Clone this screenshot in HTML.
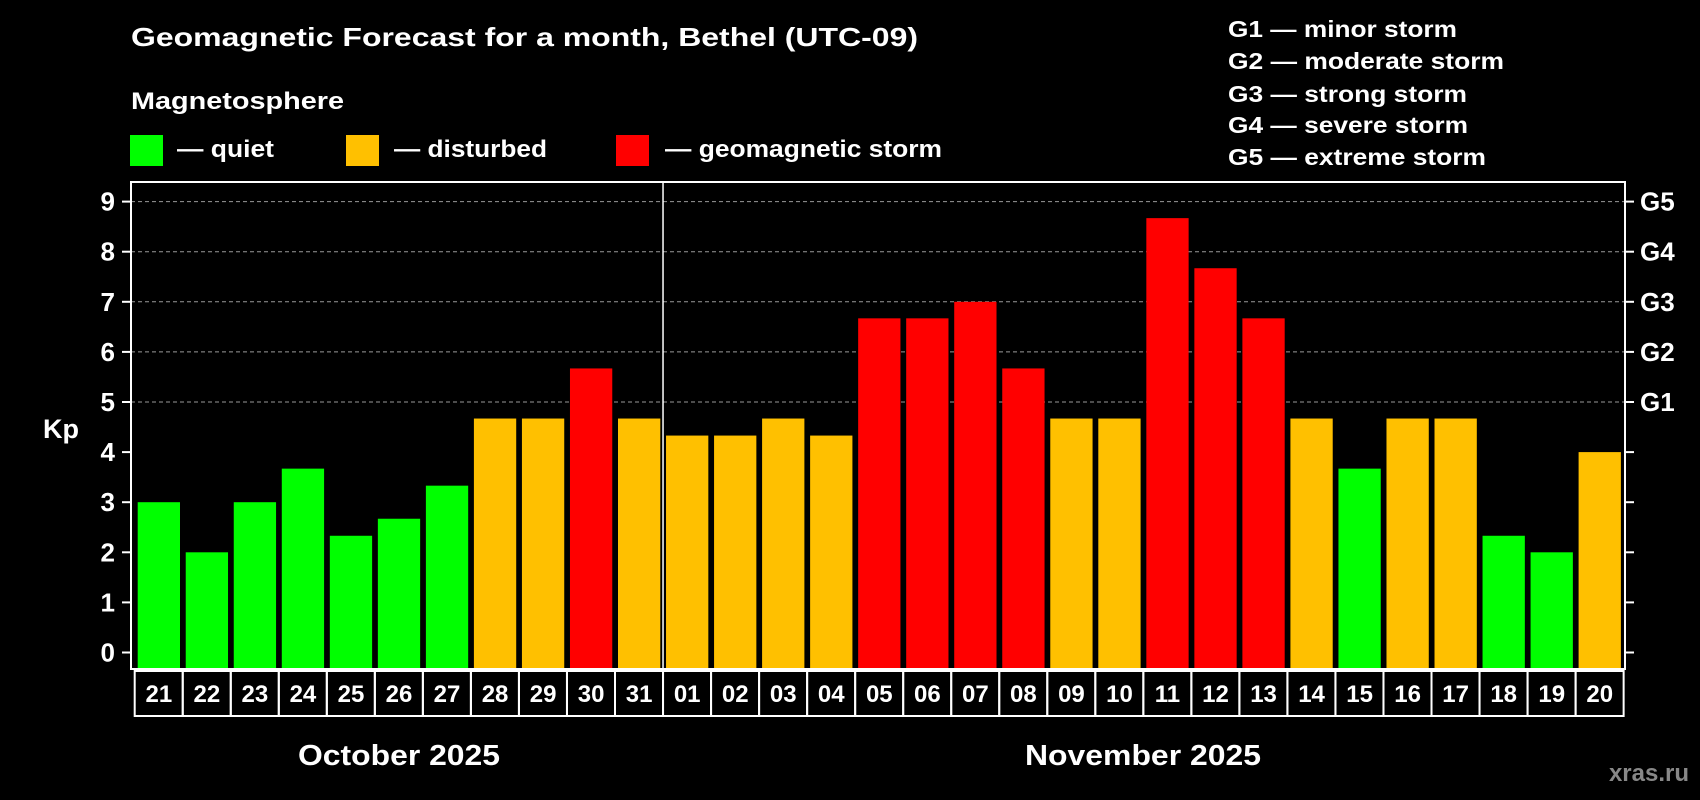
<!DOCTYPE html>
<html><head><meta charset="utf-8"><style>
html,body{margin:0;padding:0;background:#000;width:1700px;height:800px;overflow:hidden}
svg text{font-family:"Liberation Sans",Arial,sans-serif;font-weight:bold;fill:#fff}
</style></head><body>
<svg id="chart" width="1700" height="800" viewBox="0 0 1700 800" xmlns="http://www.w3.org/2000/svg">
<rect width="1700" height="800" fill="#000"/>
<text x="131" y="46" font-size="26" textLength="787" lengthAdjust="spacingAndGlyphs">Geomagnetic Forecast for a month, Bethel (UTC-09)</text>
<text x="131" y="109" font-size="24" textLength="213" lengthAdjust="spacingAndGlyphs">Magnetosphere</text>
<rect x="130" y="135" width="33" height="31" fill="#00ff00"/>
<text x="177" y="157" font-size="24" textLength="97" lengthAdjust="spacingAndGlyphs">— quiet</text>
<rect x="346" y="135" width="33" height="31" fill="#ffc000"/>
<text x="394" y="157" font-size="24" textLength="153" lengthAdjust="spacingAndGlyphs">— disturbed</text>
<rect x="616" y="135" width="33" height="31" fill="#ff0000"/>
<text x="665" y="157" font-size="24" textLength="277" lengthAdjust="spacingAndGlyphs">— geomagnetic storm</text>
<g font-size="23">
<text x="1228" y="37" textLength="229" lengthAdjust="spacingAndGlyphs">G1 — minor storm</text>
<text x="1228" y="69" textLength="276" lengthAdjust="spacingAndGlyphs">G2 — moderate storm</text>
<text x="1228" y="102" textLength="239" lengthAdjust="spacingAndGlyphs">G3 — strong storm</text>
<text x="1228" y="133" textLength="240" lengthAdjust="spacingAndGlyphs">G4 — severe storm</text>
<text x="1228" y="165" textLength="258" lengthAdjust="spacingAndGlyphs">G5 — extreme storm</text>
</g>
<g id="plot"></g>
<text x="43" y="438" font-size="27">Kp</text>
<text x="298" y="765" font-size="29" textLength="202" lengthAdjust="spacingAndGlyphs">October 2025</text>
<text x="1025" y="765" font-size="29" textLength="236" lengthAdjust="spacingAndGlyphs">November 2025</text>
<text x="1689" y="781" font-size="24" text-anchor="end" style="fill:#888">xras.ru</text>
</svg>
<script>
const days = ["21","22","23","24","25","26","27","28","29","30","31","01","02","03","04","05","06","07","08","09","10","11","12","13","14","15","16","17","18","19","20"];
const kpValues = [3,2,3,3.67,2.33,2.67,3.33,4.67,4.67,5.67,4.67,4.33,4.33,4.67,4.33,6.67,6.67,7,5.67,4.67,4.67,8.67,7.67,6.67,4.67,3.67,4.67,4.67,2.33,2,4];
const yTicks = [0,1,2,3,4,5,6,7,8,9];
const gLabels = ["G1","G2","G3","G4","G5"];
const gLevels = [5,6,7,8,9];

const NS="http://www.w3.org/2000/svg";
const L=131,R=1625,T=182,B=669;
const x0=137.7,pitch=48.03,bw=42.3;
const y=v=>652.5-v*50.1;
const xb=i=>x0+i*pitch;
const g=document.getElementById('plot');
function mk(tag,attrs){const e=document.createElementNS(NS,tag);for(const k in attrs)e.setAttribute(k,attrs[k]);g.appendChild(e);return e;}
function color(v){return v<4?"#00ff00":(v<5?"#ffc000":"#ff0000");}

yTicks.forEach(t=>{
  if(t>=5){const gl=mk('line',{x1:L,x2:R,y1:y(t),y2:y(t),stroke:"#999","stroke-dasharray":"4,3","stroke-width":1});
  
  }
  const tk=mk('line',{x1:L-9,x2:L,y1:y(t),y2:y(t),stroke:"#fff","stroke-width":2});
  
  
  const tr=mk('line',{x1:R,x2:R+9,y1:y(t),y2:y(t),stroke:"#fff","stroke-width":2});
  
  
  const tl=mk('text',{x:115,y:y(t)+9,"font-size":26,"text-anchor":"end"});
  tl.textContent=t;
  
  
});
gLabels.forEach((s,i)=>{
  const t=mk('text',{x:1640,y:y(gLevels[i])+9,"font-size":26});
  t.textContent=s;
  
  
});
kpValues.forEach((v,i)=>{
  const b=mk('rect',{x:xb(i),y:y(v),width:bw,height:B-y(v),fill:color(v)});
  
  
  const c=mk('rect',{x:xb(i)-3,y:671,width:pitch,height:45,fill:"none",stroke:"#fff","stroke-width":2});
  
  
  const t=mk('text',{x:xb(i)+bw/2,y:702,"font-size":24,"text-anchor":"middle"});
  t.textContent=days[i];
  
  
});
const fr=mk('rect',{x:L,y:T,width:R-L,height:B-T,fill:"none",stroke:"#fff","stroke-width":2});


const split=days.indexOf("01");
const dv=mk('line',{x1:xb(split)-3,x2:xb(split)-3,y1:T,y2:B,stroke:"#fff","stroke-width":1.5});


</script>
</body></html>
